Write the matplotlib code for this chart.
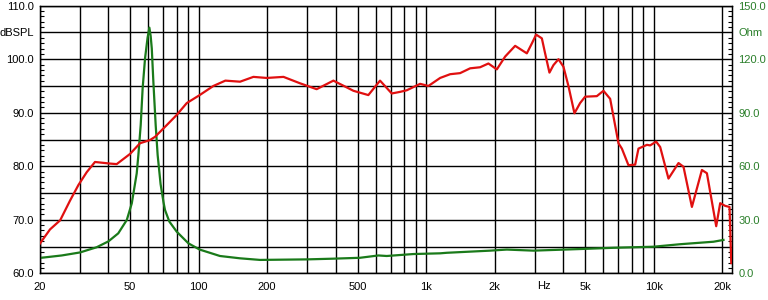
import matplotlib
matplotlib.use("Agg")
import matplotlib.pyplot as plt
from matplotlib.ticker import FixedLocator, MultipleLocator
import matplotlib.transforms as mtransforms

plt.rcParams['font.family'] = ['Liberation Sans', 'DejaVu Sans']

# SPL response (Hz, dB)
spl_freq = [20, 22.2, 24.6, 27.2, 29.6, 32.2, 35.0, 40.8, 43.6, 49.9, 55.2, 61.1,
            64.3, 72.4, 80.1, 88.6, 101, 116, 131, 152, 174, 199, 236, 279, 330,
            391, 479, 557, 627, 706, 768, 822, 941, 1023, 1152, 1275, 1410, 1561,
            1727, 1878, 2045, 2225, 2462, 2771, 2920, 3045, 3226, 3334, 3484, 3628,
            3817, 4014, 4222, 4487, 4750, 5000, 5628, 6020, 6441, 7007, 7252, 7752,
            8297, 8580, 9342, 9658, 10262, 10686, 11624, 12866, 13534, 14734,
            16304, 17150, 18844, 19618, 20630, 21561, 21950]
spl_db = [65.5, 68.2, 69.9, 73.6, 76.5, 78.9, 80.8, 80.5, 80.4, 82.3, 84.3, 84.9,
          85.5, 87.7, 89.6, 91.8, 93.3, 95.0, 96.0, 95.8, 96.7, 96.5, 96.7, 95.5,
          94.4, 96.0, 94.1, 93.3, 96.0, 93.6, 93.9, 94.2, 95.4, 95.0, 96.5, 97.2,
          97.4, 98.3, 98.5, 99.2, 98.1, 100.5, 102.5, 101.1, 103.0, 104.6, 103.9,
          101.1, 97.5, 98.9, 100.0, 98.6, 95.0, 89.9, 91.8, 93.0, 93.1, 94.1, 92.6,
          84.3, 83.3, 80.2, 80.3, 83.3, 84.0, 83.9, 84.6, 83.6, 77.7, 80.6, 79.9,
          72.4, 79.3, 78.7, 68.8, 73.1, 72.6, 72.4, 61.9]

# Impedance (Hz, Ohm)
imp_freq = [20, 25, 30.1, 35.6, 40.1, 44.3, 48.3, 50.8, 53.4, 54.3, 55.6, 56.7,
            58.1, 59.6, 60.7, 61.5, 62.2, 63.2, 64.7, 66.0, 68.0, 70.0, 71.1, 74.3,
            80.1, 90.1, 101, 124, 152, 186, 299, 391, 512, 617, 671, 879, 1152,
            1232, 1910, 2262, 2962, 4754, 6660, 9984, 13084, 18334, 20286]
imp_ohm = [8.6, 10.0, 11.7, 14.6, 17.9, 22.4, 29.9, 39.2, 56.0, 66.3, 83.1, 103.7,
           120.5, 132.0, 137.7, 133.0, 126.0, 107.4, 83.1, 66.3, 50.0, 40.0, 35.5,
           29.0, 23.3, 16.8, 13.3, 9.7, 8.4, 7.5, 7.8, 8.2, 8.7, 10.0, 9.7, 10.8,
           11.2, 11.5, 12.7, 13.3, 12.7, 13.6, 14.3, 14.9, 16.3, 17.7, 18.7]

x_grid = [20, 30, 40, 50, 60, 70, 80, 90, 100, 200, 300, 400, 500, 600, 700, 800,
          900, 1000, 2000, 3000, 4000, 5000, 6000, 7000, 8000, 9000, 10000, 20000]
x_labels = {20: '20', 50: '50', 100: '100', 200: '200', 500: '500', 1000: '1k',
            2000: '2k', 5000: '5k', 10000: '10k', 20000: '20k'}
left_ticks = [60, 65, 70, 75, 80, 85, 90, 95, 100, 105, 110]
left_labels = ['60.0', '', '70.0', '', '80.0', '', '90.0', '', '100.0', 'dBSPL', '110.0']
right_ticks = [0, 15, 30, 45, 60, 75, 90, 105, 120, 135, 150]
right_labels = ['0.0', '', '30.0', '', '60.0', '', '90.0', '', '120.0', 'Ohm', '150.0']

RED = '#e01010'
GREEN = '#1a7a1a'
LABEL_GREEN = '#2a7f2a'
FS = 8

fig = plt.figure(figsize=(7.68, 3.0), dpi=100)
ax = fig.add_axes([39.7 / 768, 26.7 / 300, (731.5 - 39.7) / 768, (273.3 - 5.7) / 300])
ax.set_xscale('log')
ax.set_xlim(20, 22000)
ax.set_ylim(60, 110)

ax.xaxis.set_major_locator(FixedLocator(x_grid))
ax.xaxis.set_minor_locator(FixedLocator([]))
ax.set_xticklabels([x_labels.get(v, '') for v in x_grid])
ax.set_yticks(left_ticks)
ax.set_yticklabels(left_labels)
ax.yaxis.set_minor_locator(MultipleLocator(1))
ax.grid(True, which='major', color='black', linewidth=1.0)
ax.tick_params(axis='x', length=0, pad=6, labelsize=FS)
ax.tick_params(axis='y', which='major', length=0, pad=4, labelsize=FS)
ax.tick_params(axis='y', which='minor', direction='in', length=3, width=0.8)
for s in ax.spines.values():
    s.set_color('black')
    s.set_linewidth(1.0)
ax.set_axisbelow(True)

trans = mtransforms.blended_transform_factory(ax.transData, ax.transAxes)
ax.text(3280, -0.028, 'Hz', transform=trans, ha='center', va='top', fontsize=FS)

ax2 = ax.twinx()
ax2.set_ylim(0, 150)
ax2.set_yticks(right_ticks)
ax2.set_yticklabels(right_labels)
ax2.yaxis.set_minor_locator(MultipleLocator(3))
ax2.tick_params(axis='y', which='major', length=0, pad=5, labelsize=FS, labelcolor=LABEL_GREEN)
ax2.tick_params(axis='y', which='minor', direction='in', length=3, width=0.8)
ax2.plot(imp_freq, imp_ohm, color=GREEN, linewidth=1.6, solid_joinstyle='round')

ax3 = ax.twinx()
ax3.set_ylim(60, 110)
ax3.set_yticks([])
for s in ax3.spines.values():
    s.set_visible(False)
ax3.plot(spl_freq, spl_db, color=RED, linewidth=1.6, solid_joinstyle='round')
ax3.set_xlim(20, 22000)

fig.savefig('out.png', dpi=100, facecolor='white')
